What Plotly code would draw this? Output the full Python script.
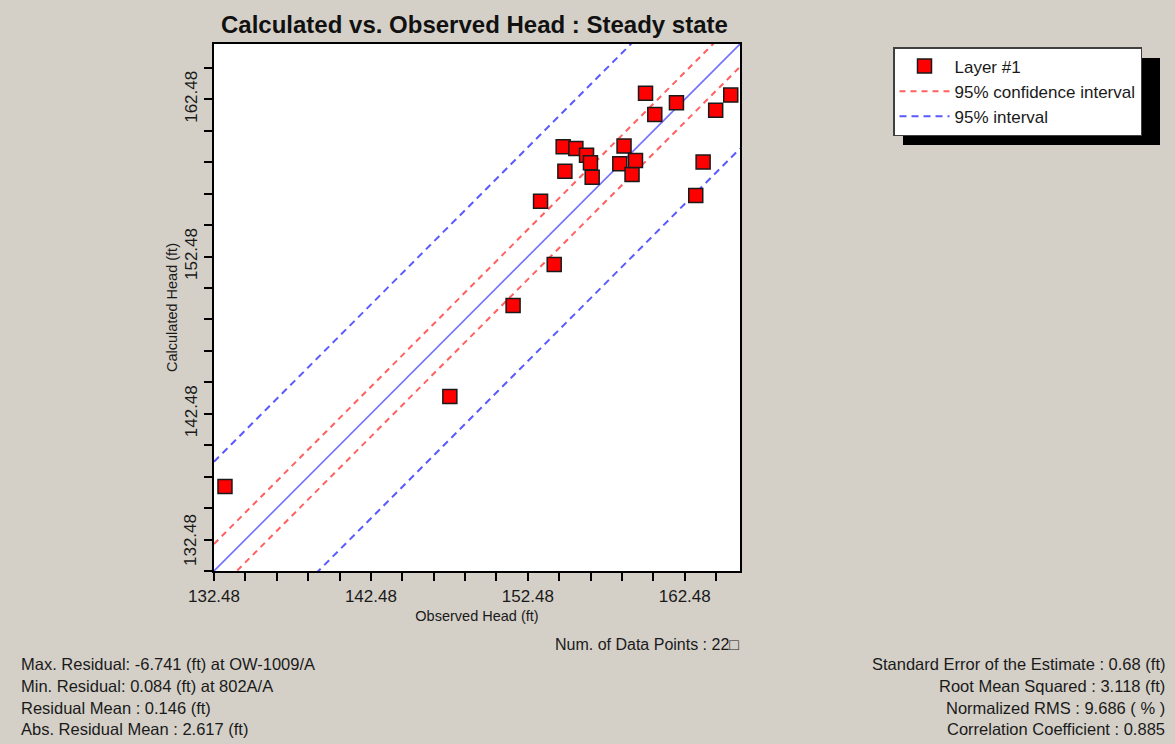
import plotly.graph_objects as go

# ---------------- data ----------------
observed = [133.18, 147.51, 151.54, 154.16, 153.29, 154.73, 154.84, 155.54, 156.22,
            156.47, 156.58, 158.34, 158.61, 159.12, 159.34, 159.98, 160.57, 161.95,
            163.18, 163.65, 164.45, 165.41]
calculated = [137.85, 143.58, 149.36, 151.97, 156.00, 159.47, 157.91, 159.36, 158.93,
              158.45, 157.53, 158.39, 159.51, 157.70, 158.59, 162.86, 161.52, 162.27,
              156.36, 158.49, 161.78, 162.75]

axis_range = [132.48, 166.0]
tick_values = [132.48, 142.48, 152.48, 162.48]
tick_labels = ["132.48", "142.48", "152.48", "162.48"]

# offsets of the interval lines from the 1:1 line (ft)
ci_upper_offset = 1.72
ci_lower_offset = -1.45
pi_upper_offset = 6.95
pi_lower_offset = -6.65

stats_left = [
    "Max. Residual: -6.741 (ft) at OW-1009/A",
    "Min. Residual: 0.084 (ft) at 802A/A",
    "Residual Mean : 0.146 (ft)",
    "Abs. Residual Mean : 2.617 (ft)",
]
stats_right = [
    "Standard Error of the Estimate : 0.68 (ft)",
    "Root Mean Squared : 3.118 (ft)",
    "Normalized RMS : 9.686 ( % )",
    "Correlation Coefficient : 0.885",
]
n_points_text = "Num. of Data Points : 22\u25a1"
title_text = "Calculated vs. Observed Head : Steady state"

# ---------------- layout geometry (pixels) ----------------
W, H = 1175, 744
PL, PR, PT, PB = 214, 740, 44, 571
BG = "#d4d0c8"
FONT = "Arial, Liberation Sans, sans-serif"
TXT = "#1a1a1a"


def px2paper(x=None, y=None):
    out = []
    if x is not None:
        out.append((x - PL) / (PR - PL))
    if y is not None:
        out.append((PB - y) / (PB - PT))
    return out[0] if len(out) == 1 else out


line_x = axis_range

fig = go.Figure()

fig.add_trace(go.Scatter(
    x=line_x, y=[v for v in line_x], mode="lines",
    line=dict(color="#7070ff", width=1.6), showlegend=False, hoverinfo="skip"))

fig.add_trace(go.Scatter(
    x=line_x, y=[v + ci_upper_offset for v in line_x], mode="lines",
    line=dict(color="#ff6060", width=2, dash="6px,5px"),
    name="95% confidence interval", legendgroup="ci", legendrank=2))
fig.add_trace(go.Scatter(
    x=line_x, y=[v + ci_lower_offset for v in line_x], mode="lines",
    line=dict(color="#ff6060", width=2, dash="6px,5px"),
    showlegend=False, legendgroup="ci"))

fig.add_trace(go.Scatter(
    x=line_x, y=[v + pi_upper_offset for v in line_x], mode="lines",
    line=dict(color="#5a5aff", width=2, dash="7px,5px"),
    name="95% interval", legendgroup="pi", legendrank=3))
fig.add_trace(go.Scatter(
    x=line_x, y=[v + pi_lower_offset for v in line_x], mode="lines",
    line=dict(color="#5a5aff", width=2, dash="7px,5px"),
    showlegend=False, legendgroup="pi"))

fig.add_trace(go.Scatter(
    x=observed, y=calculated, mode="markers", name="Layer #1",
    legendgroup="layer", legendrank=1,
    marker=dict(symbol="square", size=14, color="#ff0000",
                line=dict(color="#1a1a1a", width=1.5))))

axis_common = dict(
    range=axis_range, tickmode="array", showgrid=False, zeroline=False,
    showline=True, linecolor="black", linewidth=2.2, mirror=True,
    ticks="outside", ticklen=8, tickwidth=2, tickcolor="black",
    minor=dict(dtick=2, tick0=132.48, ticks="outside", ticklen=8,
               tickwidth=2, tickcolor="black", showgrid=False),
    tickfont=dict(family=FONT, size=17, color=TXT),
)

fig.update_xaxes(**axis_common, tickvals=tick_values, ticktext=tick_labels,
                 title=dict(text="Observed Head (ft)", standoff=6,
                            font=dict(family=FONT, size=14.5, color=TXT)))
fig.update_yaxes(**axis_common, tickvals=tick_values[1:], ticktext=tick_labels[1:],
                 tickangle=-90,
                 title=dict(text="Calculated Head (ft)", standoff=1,
                            font=dict(family=FONT, size=14.5, color=TXT)))

# legend shadow
fig.add_shape(type="rect", xref="paper", yref="paper",
              x0=px2paper(x=903), x1=px2paper(x=1160),
              y0=px2paper(y=145), y1=px2paper(y=58),
              fillcolor="black", line=dict(width=0), layer="below")

annotations = []
# shifted bottom y tick label
annotations.append(dict(text="132.48", xref="paper", yref="paper",
                        x=px2paper(x=190), y=px2paper(y=540), textangle=-90,
                        showarrow=False, xanchor="center", yanchor="middle",
                        font=dict(family=FONT, size=17, color=TXT)))
annotations.append(dict(text=title_text, xref="paper", yref="paper",
                        x=px2paper(x=474), y=px2paper(y=25), showarrow=False,
                        xanchor="center", yanchor="middle",
                        font=dict(family=FONT, size=24, color="#111111", weight="bold"),
                        ))
annotations.append(dict(text=n_points_text, xref="paper", yref="paper",
                        x=px2paper(x=741), y=px2paper(y=644), showarrow=False,
                        xanchor="right", yanchor="middle",
                        font=dict(family=FONT, size=16, color=TXT)))
row_y = [664, 686, 708, 729]
for txt, yy in zip(stats_left, row_y):
    annotations.append(dict(text=txt, xref="paper", yref="paper",
                            x=px2paper(x=19), y=px2paper(y=yy), showarrow=False,
                            xanchor="left", yanchor="middle",
                            font=dict(family=FONT, size=16.5, color=TXT)))
for txt, yy in zip(stats_right, row_y):
    annotations.append(dict(text=txt, xref="paper", yref="paper",
                            x=px2paper(x=1167), y=px2paper(y=yy), showarrow=False,
                            xanchor="right", yanchor="middle",
                            font=dict(family=FONT, size=16.5, color=TXT)))

fig.update_layout(
    width=W, height=H,
    margin=dict(l=PL, r=W - PR, t=PT, b=H - PB, pad=0),
    paper_bgcolor=BG, plot_bgcolor="white",
    font=dict(family=FONT, color=TXT),
    showlegend=True,
    legend=dict(x=px2paper(x=893), y=px2paper(y=47), xanchor="left", yanchor="top",
                bgcolor="white", bordercolor="#404040", borderwidth=1.5,
                font=dict(family=FONT, size=17, color=TXT), itemwidth=50,
                tracegroupgap=2, traceorder="normal"),
    annotations=annotations,
)

fig.write_html("out.html", config={"displayModeBar": False},
               post_script="document.body.style.margin='0';")
